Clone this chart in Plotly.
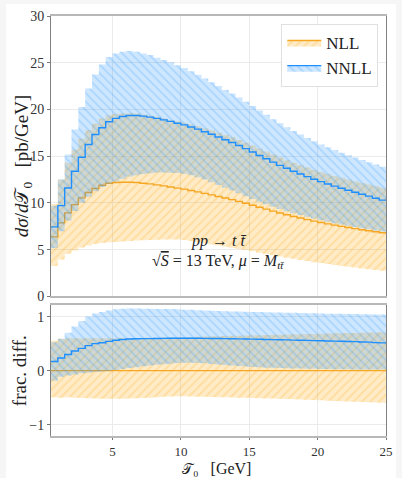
import numpy as np
import plotly.graph_objects as go

# Bin edges of the tau_0 histogram [GeV]
BIN_EDGES = [0.5, 1.0, 1.5, 2.0, 2.5, 3.0, 3.5, 4.0, 4.5, 5.0,
             5.5, 6.0, 6.5, 7.0, 7.5, 8.0, 8.5, 9.0, 9.5, 10.0,
             10.5, 11.0, 11.5, 12.0, 12.5, 13.0, 13.5, 14.0, 14.5, 15.0,
             15.5, 16.0, 16.5, 17.0, 17.5, 18.0, 18.5, 19.0, 19.5, 20.0,
             20.5, 21.0, 21.5, 22.0, 22.5, 23.0, 23.5, 24.0, 24.5, 25.0]

# dsigma/dtau_0 [pb/GeV], one value per bin
NLL_CENTRAL = [6.36, 7.86, 8.93, 9.82, 10.54, 11.11, 11.54, 11.89, 12.11, 12.18,
               12.21, 12.21, 12.18, 12.11, 12.04, 11.93, 11.82, 11.70, 11.58, 11.47,
               11.33, 11.18, 11.02, 10.86, 10.69, 10.52, 10.35, 10.16, 9.96, 9.75,
               9.54, 9.33, 9.12, 8.92, 8.73, 8.55, 8.38, 8.21, 8.05, 7.90,
               7.76, 7.62, 7.49, 7.37, 7.25, 7.13, 7.02, 6.91, 6.80]
NLL_HIGH = [9.89, 12.50, 14.29, 15.71, 16.86, 17.78, 18.46, 19.02, 19.38, 19.51,
            19.57, 19.60, 19.56, 19.46, 19.36, 19.21, 19.05, 18.88, 18.73, 18.58,
            18.40, 18.20, 17.98, 17.77, 17.52, 17.27, 17.03, 16.74, 16.44, 16.13,
            15.81, 15.49, 15.17, 14.86, 14.57, 14.30, 14.04, 13.78, 13.53, 13.30,
            13.09, 12.88, 12.68, 12.50, 12.32, 12.14, 11.97, 11.80, 11.63]
NLL_LOW = [3.24, 3.93, 4.55, 4.91, 5.22, 5.44, 5.60, 5.71, 5.79, 5.82,
           5.86, 5.92, 5.97, 5.99, 6.02, 6.06, 6.09, 6.08, 6.08, 6.02,
           5.91, 5.79, 5.68, 5.56, 5.44, 5.32, 5.21, 5.08, 4.95, 4.82,
           4.67, 4.53, 4.40, 4.26, 4.14, 4.02, 3.90, 3.78, 3.66, 3.56,
           3.45, 3.35, 3.26, 3.17, 3.08, 2.99, 2.91, 2.83, 2.75]

NNLL_CENTRAL = [7.43, 9.71, 11.60, 13.39, 14.89, 16.25, 17.32, 18.04, 18.68, 19.04,
                19.25, 19.36, 19.36, 19.29, 19.18, 19.04, 18.88, 18.72, 18.53, 18.35,
                18.13, 17.89, 17.61, 17.34, 17.05, 16.76, 16.47, 16.14, 15.81, 15.44,
                15.08, 14.72, 14.36, 14.02, 13.70, 13.38, 13.10, 12.81, 12.53, 12.28,
                12.03, 11.79, 11.56, 11.35, 11.14, 10.92, 10.73, 10.50, 10.30]
NNLL_HIGH = [9.70, 12.50, 15.18, 17.86, 20.25, 22.25, 23.75, 24.82, 25.60, 26.00,
             26.18, 26.25, 26.18, 26.00, 25.82, 25.54, 25.29, 25.04, 24.72, 24.43,
             24.08, 23.70, 23.31, 22.91, 22.50, 22.09, 21.70, 21.28, 20.83, 20.36,
             19.89, 19.43, 18.96, 18.52, 18.10, 17.70, 17.32, 16.95, 16.59, 16.26,
             15.95, 15.65, 15.37, 15.11, 14.85, 14.59, 14.35, 14.11, 13.87]
NNLL_LOW = [5.18, 6.96, 8.13, 9.13, 10.01, 10.67, 11.25, 11.71, 12.05, 12.30,
            12.58, 12.82, 12.97, 13.08, 13.18, 13.24, 13.24, 13.22, 13.20, 13.13,
            12.97, 12.75, 12.51, 12.22, 11.92, 11.62, 11.33, 11.02, 10.71, 10.41,
            10.13, 9.85, 9.59, 9.34, 9.11, 8.90, 8.70, 8.51, 8.32, 8.15,
            7.99, 7.83, 7.68, 7.55, 7.42, 7.29, 7.17, 7.05, 6.93]

X_TICKS = [5, 10, 15, 20, 25]
Y_TICKS_TOP = [0, 5, 10, 15, 20, 25, 30]
Y_TICKS_BOTTOM = [-1, 0, 1]

SERIES = [
    ("NLL", NLL_CENTRAL, NLL_LOW, NLL_HIGH,
     "#f5a623", "rgba(255,165,0,0.22)", "rgba(255,165,0,0.42)", "/"),
    ("NNLL", NNLL_CENTRAL, NNLL_LOW, NNLL_HIGH,
     "#1e8fff", "rgba(30,144,255,0.22)", "rgba(30,144,255,0.42)", "\\"),
]

FONT = "Liberation Serif"
ref = np.array(NLL_CENTRAL)


def steps(values):
    v = list(values)
    return v + [v[-1]]


fig = go.Figure()

for panel, (xa, ya) in enumerate([("x", "y"), ("x2", "y2")]):
    for name, cen, lo, hi, lc, fc, hc, hatch in SERIES:
        if panel == 0:
            c, l, h = np.array(cen), np.array(lo), np.array(hi)
        else:
            c = np.array(cen) / ref - 1
            l = np.array(lo) / ref - 1
            h = np.array(hi) / ref - 1
        fig.add_trace(go.Scatter(
            x=BIN_EDGES, y=steps(l), xaxis=xa, yaxis=ya, mode="lines",
            line=dict(width=0, shape="hv"), showlegend=False, hoverinfo="skip"))
        fig.add_trace(go.Scatter(
            x=BIN_EDGES, y=steps(h), xaxis=xa, yaxis=ya, mode="lines",
            line=dict(width=0, shape="hv"), fill="tonexty", fillcolor=fc,
            fillpattern=dict(shape=hatch, fgcolor=hc, bgcolor=fc, size=6, solidity=0.3),
            showlegend=False, hoverinfo="skip"))
        fig.add_trace(go.Scatter(
            x=BIN_EDGES, y=steps(c), xaxis=xa, yaxis=ya, mode="lines",
            line=dict(color=lc, width=1.4, shape="hv"), showlegend=False))

# legend entries
for name, cen, lo, hi, lc, fc, hc, hatch in SERIES:
    fig.add_trace(go.Scatter(
        x=[None], y=[None], mode="lines", name=name,
        line=dict(color=lc, width=1.4), fill="toself", fillcolor=fc,
        fillpattern=dict(shape=hatch, fgcolor=hc, bgcolor=fc, size=6, solidity=0.3)))

axis_common = dict(showgrid=True, gridcolor="#ebebeb", gridwidth=1, zeroline=False,
                   showline=True, mirror=True, ticks="outside", ticklen=3,
                   tickcolor="#777777", tickfont=dict(family=FONT, size=14, color="#333333"))

fig.update_layout(
    width=402, height=478,
    margin=dict(l=51, r=9, t=15, b=42),
    paper_bgcolor="#f6f6f6", plot_bgcolor="white",
    xaxis=dict(axis_common, domain=[0, 1], anchor="y", range=[0.5, 25],
               tickvals=X_TICKS, showticklabels=False, ticks="",
               linecolor="#b8b8b8", linewidth=2),
    yaxis=dict(axis_common, domain=[0.3325, 1], anchor="x", range=[0, 30],
               tickvals=Y_TICKS_TOP, linecolor="#808080", linewidth=1),
    xaxis2=dict(axis_common, domain=[0, 1], anchor="y2", range=[0.5, 25],
                matches="x", tickvals=X_TICKS, linecolor="#b8b8b8", linewidth=2,
                ticklen=2, tickfont=dict(family=FONT, size=13, color="#333333")),
    yaxis2=dict(axis_common, domain=[0, 0.3112], anchor="x2", range=[-1.21, 1.21],
                tickvals=Y_TICKS_BOTTOM, linecolor="#808080", linewidth=1),
    legend=dict(x=0.977, y=0.981, xanchor="right", yanchor="top",
                traceorder="normal",
                bgcolor="white", bordercolor="#e0e0e0", borderwidth=1,
                font=dict(family=FONT, size=17, color="#222222"),
                itemwidth=34, tracegroupgap=2),
    shapes=[dict(type="rect", xref="paper", yref="paper", layer="below",
                 x0=-0.1345, x1=1.03, y0=-0.11, y1=1.0285,
                 fillcolor="white", line=dict(width=0))],
    showlegend=True,
)

txt = dict(family=FONT, color="#222222")
center = dict(xref="paper", yref="paper", xanchor="center", yanchor="middle",
              showarrow=False)
fig.add_annotation(center, x=-0.085, y=0.6413, textangle=-90,
                   text="<i>dσ</i>/<i>d</i>𝒯<sub>0</sub>   [pb/GeV]",
                   font=dict(txt, size=19))
fig.add_annotation(center, x=-0.094, y=0.1556, textangle=-90,
                   text="frac. diff.", font=dict(txt, size=19))
fig.add_annotation(center, x=0.494, y=-0.0998, yanchor="bottom", borderpad=0,
                   text="<span style='font-size:14px'>𝒯</span>₀   [GeV]",
                   font=dict(txt, size=16))
fig.add_annotation(center, x=0.5, y=0.4632,
                   text="<i>pp</i> → <i>t t̄</i>", font=dict(txt, size=16))
fig.add_annotation(center, x=0.5, y=0.4157,
                   text="√<span style='text-decoration:overline'><i>S</i></span> = 13 TeV, <i>μ</i> = <i>M</i><sub><i>tt̄</i></sub>",
                   font=dict(txt, size=16))

fig.write_html("out.html")
